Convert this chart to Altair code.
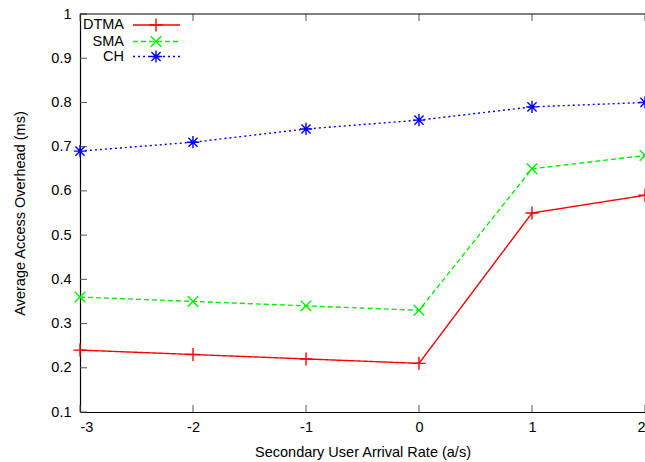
import altair as alt
import pandas as pd

x_vals = [-3, -2, -1, 0, 1, 2]
dtma = [0.24, 0.23, 0.22, 0.21, 0.55, 0.59]
sma = [0.36, 0.35, 0.34, 0.33, 0.65, 0.68]
ch = [0.69, 0.71, 0.74, 0.76, 0.79, 0.80]
series_names = ["DTMA", "SMA", "CH"]
y_ticks = [0.1, 0.2, 0.3, 0.4, 0.5, 0.6, 0.7, 0.8, 0.9, 1.0]
x_ticks = [-3, -2, -1, 0, 1, 2]

W, H = 565, 398
FONT = "Liberation Sans"
FS = 14.5

PLUS = "M-1,0L1,0M0,-1L0,1"
XSHAPE = "M-1,-1L1,1M-1,1L1,-1"
STAR = "M-1,0L1,0M0,-1L0,1M-0.75,-0.75L0.75,0.75M-0.75,0.75L0.75,-0.75"

styles = {
    "DTMA": dict(color="#ff0000", dash=[1, 0], shape=PLUS, size=170, vals=dtma),
    "SMA": dict(color="#00ee00", dash=[5, 3], shape=XSHAPE, size=110, vals=sma),
    "CH": dict(color="#0000ff", dash=[2, 3], shape=STAR, size=150, vals=ch),
}

xs = alt.Scale(domain=[-3, 2], nice=False, zero=False)
ys = alt.Scale(domain=[0.1, 1.0], nice=False, zero=False)

layers = []
ydf = pd.DataFrame({"y": y_ticks})
xdf = pd.DataFrame({"x": x_ticks})
tick_col = "#555555"
layers.append(alt.Chart(ydf).mark_rule(color=tick_col, strokeWidth=1).encode(
    y=alt.Y("y:Q", scale=ys), x=alt.value(0), x2=alt.value(7)))
layers.append(alt.Chart(xdf).mark_rule(color=tick_col, strokeWidth=1).encode(
    x=alt.X("x:Q", scale=xs), y=alt.value(H), y2=alt.value(H - 7)))
layers.append(alt.Chart(xdf).mark_rule(color=tick_col, strokeWidth=1).encode(
    x=alt.X("x:Q", scale=xs), y=alt.value(0), y2=alt.value(7)))
layers.append(alt.Chart(pd.DataFrame({"a": [0]})).mark_rule(color="black", strokeWidth=1).encode(
    x=alt.value(0), x2=alt.value(W), y=alt.value(0)))

base_axes_done = False
for name in series_names:
    s = styles[name]
    df = pd.DataFrame({"x": x_vals, "y": s["vals"]})
    if not base_axes_done:
        xenc = alt.X("x:Q", scale=xs, axis=alt.Axis(
            values=x_ticks, ticks=False, grid=False, title="Secondary User Arrival Rate (a/s)",
            labelExpr="'' + datum.value",
            labelPadding=8, domainColor="black", domainWidth=1.2,
            titleX=W / 2, titleY=40, titleBaseline="middle"))
        yenc = alt.Y("y:Q", scale=ys, axis=alt.Axis(
            values=y_ticks, ticks=False, grid=False, title="Average Access Overhead (ms)",
            labelExpr="datum.value == 1 ? '1' : format(datum.value, '.1f')",
            labelPadding=9, domainColor="black", domainWidth=1.2,
            titleX=-60, titleY=H / 2, titleAlign="center", titleBaseline="middle"))
        base_axes_done = True
    else:
        xenc = alt.X("x:Q", scale=xs)
        yenc = alt.Y("y:Q", scale=ys)
    layers.append(alt.Chart(df).mark_line(color=s["color"], strokeWidth=1.4,
                                          strokeDash=s["dash"], clip=True).encode(x=xenc, y=yenc))
    layers.append(alt.Chart(df).mark_point(shape=s["shape"], size=s["size"], filled=False,
                                           stroke=s["color"], strokeWidth=1.4, opacity=1).encode(
        x=alt.X("x:Q", scale=xs), y=alt.Y("y:Q", scale=ys)))

leg_rows = {"DTMA": 11, "SMA": 27.5, "CH": 42.5}
for name in series_names:
    s = styles[name]
    ldf = pd.DataFrame({"label": [name]})
    ry = leg_rows[name]
    layers.append(alt.Chart(ldf).mark_text(align="right", baseline="middle", font=FONT,
                                           fontSize=FS, color="black").encode(
        text="label:N", x=alt.value(44), y=alt.value(ry)))
    layers.append(alt.Chart(ldf).mark_rule(color=s["color"], strokeWidth=1.4,
                                           strokeDash=s["dash"]).encode(
        x=alt.value(53), x2=alt.value(100), y=alt.value(ry)))
    layers.append(alt.Chart(ldf).mark_point(shape=s["shape"], size=s["size"], filled=False,
                                            stroke=s["color"], strokeWidth=1.4, opacity=1).encode(
        x=alt.value(76), y=alt.value(ry)))

chart = alt.layer(*layers).properties(
    width=W, height=H,
    autosize=alt.AutoSizeParams(type="none"),
    padding={"left": 80, "top": 14, "right": 0, "bottom": 50},
    background="white",
).configure_view(stroke=None).configure_axis(
    labelFont=FONT, titleFont=FONT, labelFontSize=FS, titleFontSize=FS,
    labelColor="black", titleColor="black", titleFontWeight="normal",
)

chart.save("out.html", embed_options={"renderer": "svg", "actions": False})
